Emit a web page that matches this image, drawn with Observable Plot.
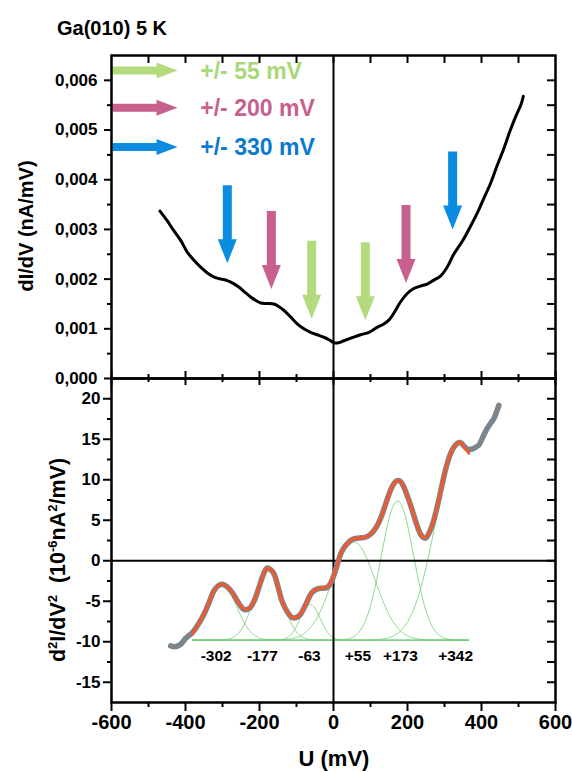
<!DOCTYPE html>
<html><head><meta charset="utf-8">
<script src="https://cdn.jsdelivr.net/npm/d3@7"></script>
<script src="https://cdn.jsdelivr.net/npm/@observablehq/plot@0.6"></script>
<style>
body{margin:0;background:#fff;}
#wrap{position:relative;width:572px;height:772px;}
#wrap svg{position:absolute;left:0;top:0;overflow:visible;background:transparent;}
</style></head><body><div id="wrap"></div>
<script>
// ---------- data ----------
const title = "Ga(010) 5 K";
const xLabel = "U (mV)";
const yLabelTop = "dI/dV (nA/mV)";

// top panel: dI/dV curve
const dIdV_U = [-469,-450,-432,-413,-395,-377,-359,-340,-319,-303,-287,-270,-256,-240,-224,-210,-197,-180,-161,-148,-134,-116,-98,-80,-62,-44,-26,-12,1,14,28,50,73,96,118,135,150,166,181,198,217,235,253,271,289,307,325,348,370,393,406,424,442,460,477,494,507,513];
const dIdV   = [0.00337,0.00318,0.00298,0.00278,0.00254,0.00238,0.00224,0.00212,0.00203,0.00200,0.00197,0.00191,0.00184,0.00174,0.00164,0.00157,0.00152,0.00151,0.00150,0.00145,0.00137,0.00124,0.00110,0.00100,0.00093,0.00088,0.00083,0.00078,0.00072,0.00072,0.00076,0.00082,0.00088,0.00093,0.00103,0.00109,0.00118,0.00135,0.00154,0.00170,0.00181,0.00186,0.00190,0.00198,0.00206,0.00224,0.00250,0.00276,0.00306,0.00340,0.00362,0.00392,0.00428,0.00462,0.00498,0.00530,0.00552,0.00568];

// bottom panel: d2I/dV2 data (grey) and fit (orange)
const d2_U = [-440,-428,-413,-400,-390,-382,-365,-350,-336,-323,-312,-301,-288,-274,-258,-242,-228,-215,-203,-193,-185,-179,-170,-161,-150,-139,-125,-112,-100,-89,-74,-58,-45,-35,-17,-8,1,10,19,28,37,46,55,70,86,98,109,121,132,143,154,163,172,181,190,202,213,224,235,242,249,260,271,283,294,305,316,328,339,346,352,362,375,384,393,404,415,425,433,440,447];
const d2   = [-10.5,-10.6,-10.3,-9.6,-9.2,-8.9,-7.8,-6.6,-5.1,-3.7,-3.1,-2.9,-3.2,-3.9,-5.1,-6.0,-5.9,-5.0,-3.5,-2.1,-1.2,-0.9,-1.1,-1.6,-3.2,-5.0,-6.3,-7.0,-7.0,-6.6,-5.3,-3.9,-3.5,-3.4,-3.3,-2.8,-1.8,-0.5,0.8,1.6,2.1,2.5,2.7,2.8,2.9,3.2,3.7,4.6,5.8,7.3,8.7,9.5,9.9,9.8,9.1,7.7,6.2,4.6,3.3,2.9,2.8,3.6,5.0,7.2,9.5,11.6,13.2,14.2,14.6,14.5,14.2,13.8,13.8,14.0,14.3,15.3,16.3,17.0,17.5,18.3,19.2];
const fit_U = [-381,-365,-350,-336,-323,-312,-301,-288,-274,-258,-242,-228,-215,-203,-193,-185,-179,-170,-161,-150,-139,-125,-112,-100,-89,-74,-58,-45,-35,-17,-8,1,10,19,28,37,46,55,70,86,98,109,121,132,143,154,163,172,181,190,202,213,224,235,242,249,260,271,283,294,305,316,328,339,346,352,359,366];
const fit   = [-9.0,-7.8,-6.6,-5.1,-3.7,-3.1,-2.9,-3.2,-3.9,-5.1,-5.9,-5.9,-5.0,-3.5,-2.1,-1.2,-0.9,-1.1,-1.6,-3.2,-5.0,-6.3,-7.0,-7.0,-6.6,-5.3,-3.9,-3.5,-3.4,-3.2,-2.7,-1.8,-0.5,0.8,1.6,2.1,2.5,2.7,2.8,2.9,3.2,3.7,4.6,5.8,7.3,8.7,9.5,9.9,9.8,9.1,7.7,6.2,4.6,3.3,2.9,2.9,3.6,5.0,7.2,9.5,11.6,13.2,14.2,14.6,14.5,14.1,13.7,13.3];

// Gaussian components
const peakCenters = [-302,-177,-63,55,173,342];
const peakHeights = [6.9,8.8,4.4,12.1,17.2,24.4];
const peakWidths  = [40,37,27,58,43.6,65];
const peakBaseline = -9.8;
const peakRange = [-381,365];
const peakLabels = ["-302","-177","-63","+55","+173","+342"];
const peakLabelU = [-317,-192,-65,66,181,330];
const peakLabelY = -11.8;

// arrows
const cBlue = "#0a8ce0", cPink = "#c8608f", cGreen = "#b3db7e";
const arrowU    = [-287,-168,-59,86,196,322];
const arrowTipY = [0.00232,0.00180,0.00120,0.00117,0.00192,0.00300];
const arrowCol  = [cBlue,cPink,cGreen,cGreen,cPink,cBlue];
const legendLabels = ["+/- 55 mV","+/- 200 mV","+/- 330 mV"];
const legendY = [0.00620,0.00545,0.00466];
const legendArrowCol = [cGreen,cPink,cBlue];
const legendTextCol = ["#a8d878","#c8608f","#0a7ad0"];
const legendStartU = -600, legendTextU = -360;

// ticks
const xMajor = [-600,-400,-200,0,200,400,600];
const xMinor = [-500,-300,-100,100,300,500];
const xAll = [-500,-400,-300,-200,-100,0,100,200,300,400,500];
const yTopMajor = [0,0.001,0.002,0.003,0.004,0.005,0.006];
const yTopMinor = [0.0005,0.0015,0.0025,0.0035,0.0045,0.0055];
const yTopAll = [0.0005,0.001,0.0015,0.002,0.0025,0.003,0.0035,0.004,0.0045,0.005,0.0055,0.006];
const yBotMajor = [-15,-10,-5,0,5,10,15,20];
const yBotMinor = [-12.5,-7.5,-2.5,2.5,7.5,12.5,17.5];
const yBotAll = [-15,-12.5,-10,-7.5,-5,-2.5,0,2.5,5,7.5,10,12.5,15,17.5,20];

// ---------- tables ----------
const topData = dIdV_U.map((u,i)=>({u, v:dIdV[i]}));
const d2Data = d2_U.map((u,i)=>({u, v:d2[i]}));
const fitData = fit_U.map((u,i)=>({u, v:fit[i]}));
const compU = d3.range(peakRange[0], peakRange[1]+0.1, 2);
const comps = peakCenters.flatMap((c,k)=>compU.map(u=>({k, u, v: peakBaseline + peakHeights[k]*Math.exp(-((u-c)**2)/(2*peakWidths[k]**2))})));
const peakLab = peakLabels.map((t,i)=>({t, u:peakLabelU[i], v:peakLabelY}));
const arrows = arrowU.map((u,i)=>({u, v:arrowTipY[i], c:arrowCol[i]}));
const legend = legendLabels.map((t,i)=>({t, v:legendY[i], ca:legendArrowCol[i], ct:legendTextCol[i]}));

const font = '"Liberation Sans", Arial, Helvetica, sans-serif';
const downArrow = {draw(ctx){ctx.moveTo(0,0);ctx.lineTo(-9.5,-24);ctx.lineTo(-4.5,-24);ctx.lineTo(-4.5,-78);ctx.lineTo(4.5,-78);ctx.lineTo(4.5,-24);ctx.lineTo(9.5,-24);ctx.closePath();}};
const rightArrow = {draw(ctx){ctx.moveTo(1,-4);ctx.lineTo(45,-4);ctx.lineTo(45,-8);ctx.lineTo(66,0);ctx.lineTo(45,8);ctx.lineTo(45,4);ctx.lineTo(1,4);ctx.closePath();}};
const blank = () => "";
const fmtTop = d => d3.format(".3f")(d).replace(".", ",");
const fmtInt = d => String(d);
const W = 572, ML = 111, MR = 17;

const topPlot = Plot.plot({
  width: W, height: 386, marginTop: 55, marginBottom: 8, marginLeft: ML, marginRight: MR,
  style: {background:"transparent", overflow:"visible", fontFamily: font, fontWeight:"bold", fontSize:"17px"},
  x: {domain:[-600,600], axis:null},
  y: {domain:[0,0.0065], axis:null},
  color: {type:"identity"},
  marks: [
    Plot.ruleX([0], {stroke:"black", strokeWidth:2}),
    Plot.line(topData, {x:"u", y:"v", stroke:"black", strokeWidth:3, curve:"catmull-rom"}),
    Plot.dot(arrows, {x:"u", y:"v", symbol:downArrow, fill:"c", stroke:"none"}),
    Plot.dot(legend, {x:()=>legendStartU, y:"v", symbol:rightArrow, fill:"ca", stroke:"none"}),
    Plot.text(legend, {x:()=>legendTextU, y:"v", text:"t", fill:"ct", textAnchor:"start", lineAnchor:"middle", fontSize:23, fontWeight:"bold", dy:1}),
    Plot.axisY(yTopMajor, {anchor:"left", tickSize:7, tickPadding:7, tickFormat:fmtTop, strokeWidth:2, fontSize:17, fontWeight:"bold", label:null}),
    Plot.axisY(yTopMinor, {anchor:"left", tickSize:4, tickFormat:blank, strokeWidth:2, label:null}),
    Plot.axisY(yTopAll, {anchor:"right", tickSize:9, dx:-9, tickFormat:blank, strokeWidth:2, label:null}),
    Plot.axisX(xAll, {anchor:"top", tickSize:7, dy:7, tickFormat:blank, strokeWidth:2, label:null}),
    Plot.axisX(xMajor, {anchor:"bottom", tickSize:14, dy:-7, tickFormat:blank, strokeWidth:2, label:null}),
    Plot.axisX(xMinor, {anchor:"bottom", tickSize:8, dy:-4, tickFormat:blank, strokeWidth:2, label:null}),
    Plot.frame({stroke:"black", strokeWidth:2.5})
  ]
});

const botPlot = Plot.plot({
  width: W, height: 772, marginTop: 378, marginBottom: 70, marginLeft: ML, marginRight: MR,
  style: {background:"transparent", overflow:"visible", fontFamily: font, fontWeight:"bold", fontSize:"17px"},
  x: {domain:[-600,600], axis:null},
  y: {domain:[-17.5,22.5], axis:null},
  marks: [
    Plot.line(comps, {x:"u", y:"v", z:"k", stroke:"#6fcb6f", strokeWidth:0.8}),
    Plot.ruleX([0], {stroke:"black", strokeWidth:2}),
    Plot.ruleY([0], {stroke:"black", strokeWidth:2}),
    Plot.line(d2Data, {x:"u", y:"v", stroke:"#7d858c", strokeWidth:5.5, curve:"catmull-rom"}),
    Plot.line(fitData, {x:"u", y:"v", stroke:"#f2582c", strokeWidth:3, curve:"catmull-rom"}),
    Plot.text(peakLab, {x:"u", y:"v", text:"t", fontSize:15.5, fontWeight:"bold", fill:"black", lineAnchor:"middle"}),
    Plot.axisY(yBotMajor, {anchor:"left", tickSize:8, tickPadding:3, tickFormat:fmtInt, strokeWidth:2, fontSize:17, fontWeight:"bold", label:null}),
    Plot.axisY(yBotMinor, {anchor:"left", tickSize:4, tickFormat:blank, strokeWidth:2, label:null}),
    Plot.axisY(yBotAll, {anchor:"right", tickSize:9, dx:-9, tickFormat:blank, strokeWidth:2, label:null}),
    Plot.axisX(xMajor, {anchor:"bottom", tickSize:9, tickPadding:3, tickFormat:fmtInt, strokeWidth:2, fontSize:20, fontWeight:"bold", label:null}),
    Plot.axisX(xMinor, {anchor:"bottom", tickSize:5, tickFormat:blank, strokeWidth:2, label:null}),
    Plot.frame({stroke:"black", strokeWidth:2.5})
  ]
});

const wrap = document.getElementById("wrap");
wrap.appendChild(botPlot);
wrap.appendChild(topPlot);

// titles & axis labels
const st = d3.select(topPlot);
st.append("text").attr("x",112).attr("y",35).attr("font-family",font).attr("font-weight","bold").attr("font-size",20).attr("fill","black").text(title);
st.append("text").attr("transform","translate(33,226) rotate(-90)").attr("text-anchor","middle").attr("font-family",font).attr("font-weight","bold").attr("font-size",20).attr("fill","black").text(yLabelTop);

const sb = d3.select(botPlot);
const yl = sb.append("text").attr("transform","translate(65,560) rotate(-90)").attr("text-anchor","middle").attr("font-family",font).attr("font-weight","bold").attr("font-size",21.5).attr("fill","black");
const parts = [["d",0],["2",1],["I/dV",0],["2",1],["\u00a0\u00a0(10",0],["-6",1],["nA",0],["2",1],["/mV)",0]];
let prev = 0;
parts.forEach(([t,s])=>{
  const sh = s ? -8 : 0;
  yl.append("tspan").attr("dy", sh - prev).attr("font-size", s ? 13 : 21.5).text(t);
  prev = sh;
});
sb.append("text").attr("x",334).attr("y",766).attr("text-anchor","middle").attr("font-family",font).attr("font-weight","bold").attr("font-size",22).attr("fill","black").text(xLabel);
</script></body></html>
